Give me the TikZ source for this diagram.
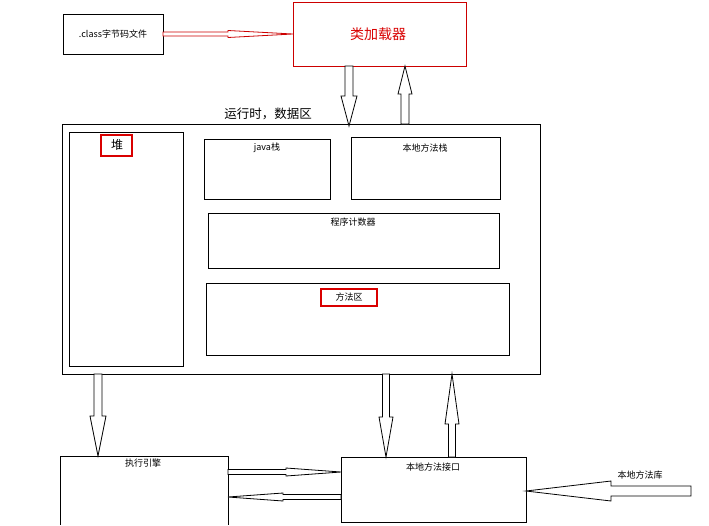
\documentclass[tikz,border=0pt]{standalone}
\usepackage{fontspec}
\setmainfont{Noto Sans CJK SC}
\usetikzlibrary{calc}
\newcommand{\barrow}[6][black]{% color, A, B, shaft half, head half, head length
  \path coordinate (bH) at ($(#3)!#6pt!(#2)$);
  \draw[#1,fill=white,line width=0.8pt]
   ($(#2)!#4pt!90:(#3)$) -- ($(bH)!#4pt!-90:(#2)$) -- ($(bH)!#5pt!-90:(#2)$) -- (#3)
   -- ($(bH)!#5pt!90:(#2)$) -- ($(bH)!#4pt!90:(#2)$) -- ($(#2)!#4pt!-90:(#3)$) -- cycle;}
\begin{document}
\begin{tikzpicture}[x=1pt,y=-1pt,
  box/.style={draw,line width=0.8pt},
  lbl/.style={font=\fontsize{9}{10}\selectfont,inner sep=1pt}]
\useasboundingbox[fill=white] (0,0) rectangle (709,525);
\draw[box] (63,14) rectangle (163,54);
\node[lbl] (cls) at (113,34) {.class字节码文件};
\draw[box,red!80!black] (293,2) rectangle (466,66);
\node[red!85!black,font=\fontsize{14}{16}\selectfont] (ld) at (378,34) {类加载器};
\draw[box] (62,124) rectangle (540,374);
\node[font=\fontsize{12.5}{14}\selectfont] (rt) at (268,114) {运行时，数据区};
\draw[box] (69,132) rectangle (183,366);
\draw[red!85!black,line width=1.5pt] (101,135) rectangle (132,156);
\node[font=\fontsize{12}{14}\selectfont] (heap) at (117,145) {堆};
\draw[box] (204,139) rectangle (330,199);
\node[lbl] (js) at (267,148) {java栈};
\draw[box] (351,137) rectangle (500,199);
\node[lbl] (ns) at (425,148) {本地方法栈};
\draw[box] (208,213) rectangle (499,268);
\node[lbl] (pc) at (353,222) {程序计数器};
\draw[box] (206,283) rectangle (509,355);
\draw[red!85!black,line width=1.5pt] (321,289) rectangle (377,306);
\node[lbl] (ma) at (349,297) {方法区};
\draw[box] (60,456) -- (60,525) (60,456) -- (228,456) -- (228,525);
\node[lbl] (ee) at (143,463) {执行引擎};
\draw[box] (341,457) rectangle (526,522);
\node[lbl] (ni) at (433,467) {本地方法接口};
\node[lbl] (nl) at (640,475) {本地方法库};
% arrow endpoints
\coordinate (c1) at (163,34); \coordinate (c2) at (293,34);
\coordinate (d1) at (349,66); \coordinate (d2) at (349,126);
\coordinate (u1) at (405,124); \coordinate (u2) at (405,66);
\coordinate (e1) at (98,374); \coordinate (e2) at (98,456);
\coordinate (f1) at (386,374); \coordinate (f2) at (386,457);
\coordinate (g1) at (452,457); \coordinate (g2) at (452,374);
\coordinate (h1) at (228,472); \coordinate (h2) at (341,472);
\coordinate (i1) at (341,497); \coordinate (i2) at (228,497);
\coordinate (j1) at (691,491); \coordinate (j2) at (526,491);
\barrow[red!80!black]{c1}{c2}{2}{3.5}{65}
\barrow{d1}{d2}{4}{8}{30}
\barrow{u1}{u2}{4}{7}{28}
\barrow{e1}{e2}{4}{8}{40}
\barrow{f1}{f2}{3.5}{7}{40}
\barrow{g1}{g2}{3.5}{7}{50}
\barrow{h1}{h2}{2.5}{4}{55}
\barrow{i1}{i2}{2.5}{4}{55}
\barrow{j1}{j2}{5}{10}{85}
\end{tikzpicture}
\end{document}
